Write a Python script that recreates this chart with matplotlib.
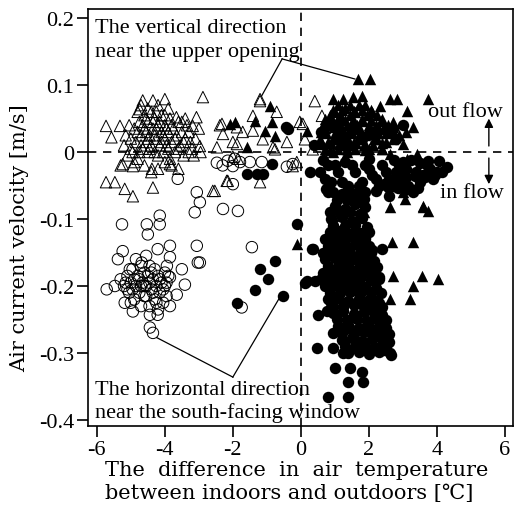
import matplotlib
matplotlib.use("Agg")
import matplotlib.pyplot as plt

plt.rcParams['font.family'] = ['Liberation Serif', 'Noto Sans CJK JP', 'DejaVu Sans']
plt.rcParams['axes.unicode_minus'] = False

# vertical direction, dT < 0 (open triangles)
ot_x = [-5.73, -5.32, -5.57, -4.65, -4.35, -4.0, -2.88, -1.2, -4.74, -3.66, -3.07, -2.38,
        -5.73, -5.47, -5.18, -4.94, -4.35, -2.59, -2.18, -1.2, -3.85, -4.38, -5.24, -4.94,
        -1.41, -2.0, -0.82, -0.41, -0.03, -0.12, -2.97, -3.18,
        -1.2, -1.41, -0.71, -2.32, -2.29, -1.88, -1.71, -1.12, -0.76, -2.47, -1.88,
        0.06, 0.12, -2.0, -1.85, -0.24, -2.15, -2.53, 0.41, 0.35, 0.62,
        -5.2, -5.1, -5.0, -4.95, -4.9, -4.85, -4.8, -4.75, -4.7, -4.65, -4.6, -4.6, -4.55, -4.5,
        -4.5, -4.45, -4.4, -4.4, -4.35, -4.3, -4.3, -4.25, -4.2, -4.2, -4.15, -4.1, -4.1, -4.05,
        -4.0, -4.0, -3.95, -3.9, -3.85, -3.85, -3.8, -3.75, -3.7, -3.65, -3.6, -3.55, -3.5, -3.45,
        -3.4, -3.35, -3.3, -3.25, -4.6, -4.4, -4.2, -4.0, -3.8, -3.6, -4.8, -4.5, -4.2, -3.9,
        -5.3, -5.05, -4.7, -3.4,
        -5.15, -5.0, -4.9, -4.8, -4.7, -4.65, -4.55, -4.5, -4.45, -4.35, -4.3, -4.25, -4.15, -4.1,
        -4.05, -3.95, -3.9, -3.8, -3.7, -3.6, -3.5, -3.45, -4.55, -4.25, -4.0, -4.75, -3.3, -3.2,
        -3.1, -3.0, -3.15, -2.95]
ot_y = [0.039, 0.039, 0.022, 0.077, 0.077, 0.079, 0.082, 0.079, 0.064, 0.052, 0.052, 0.040,
        -0.045, -0.045, -0.055, -0.066, -0.053, -0.058, -0.043, -0.045, -0.018, -0.025, -0.018, -0.021,
        0.032, 0.015, 0.007, 0.015, 0.045, -0.015, 0.009, 0.039,
        0.076, 0.054, 0.060, 0.042, 0.027, 0.037, 0.030, 0.019, 0.004, 0.007, 0.012,
        0.042, 0.019, -0.007, -0.010, -0.021, -0.043, -0.058, 0.076, 0.004, 0.054,
        0.010, -0.005, 0.020, 0.000, 0.035, 0.015, -0.010, 0.045, 0.025, 0.005, 0.055, 0.035, 0.015, 0.000,
        0.045, 0.025, 0.060, 0.010, 0.035, 0.000, 0.050, 0.020, 0.040, -0.005, 0.010, 0.030, 0.055, 0.000,
        0.020, 0.040, 0.010, 0.030, -0.010, 0.050, 0.015, 0.035, 0.000, 0.025, 0.045, 0.010, 0.030, -0.005,
        0.020, 0.040, 0.000, 0.015, -0.020, -0.030, -0.025, -0.015, -0.020, -0.025, 0.060, 0.065, 0.070, 0.065,
        -0.020, 0.040, 0.070, 0.050,
        0.025, 0.005, -0.015, 0.030, 0.010, 0.040, 0.030, 0.020, 0.005, 0.045, 0.025, 0.035, 0.045, 0.015,
        0.025, 0.035, 0.005, 0.040, 0.020, 0.005, 0.045, 0.015, 0.050, 0.060, 0.055, 0.000, 0.030, 0.005,
        0.020, 0.035, -0.005, 0.000]

# horizontal direction, dT < 0 (open circles)
oc_x = [-2.47, -2.15, -1.79, -1.5, -1.15, -2.0, -0.41, -0.24, -3.62, -2.0, -3.06, -2.97, -3.12,
        -2.29, -1.85, -4.15, -5.26, -4.53, -4.15, -4.5, -3.06, -5.24, -5.38, -4.21, -3.85, -3.85,
        -3.94, -3.03, -3.5, -5.03, -4.68, -5.71, -5.47, -3.41, -3.65, -3.85, -4.94, -5.18, -4.44,
        -4.21, -4.44, -4.35, -1.44, -1.74, -2.97,
        -5.3, -5.2, -5.1, -5.05, -5.0, -4.95, -4.9, -4.85, -4.8, -4.75, -4.7, -4.65, -4.6, -4.6,
        -4.55, -4.5, -4.45, -4.4, -4.35, -4.3, -4.3, -4.25, -4.2, -4.15, -4.1, -4.05, -4.0, -3.95,
        -3.9, -3.85, -4.45, -4.2, -4.7, -5.0, -4.85, -4.55,
        -5.15, -4.95, -4.75, -4.55, -4.45, -4.35, -4.15, -4.05, -3.95, -4.25, -4.6, -4.9, -4.7,
        -5.1, -4.0, -4.4, -1.95, -2.3]
oc_y = [-0.016, -0.013, -0.015, -0.015, -0.015, -0.021, -0.022, -0.018, -0.040, -0.048, -0.060, -0.075, -0.090,
        -0.085, -0.088, -0.095, -0.108, -0.108, -0.108, -0.123, -0.140, -0.148, -0.160, -0.145, -0.140, -0.157,
        -0.170, -0.165, -0.175, -0.175, -0.165, -0.205, -0.200, -0.198, -0.213, -0.187, -0.238, -0.225, -0.243,
        -0.243, -0.262, -0.270, -0.142, -0.232, -0.165,
        -0.190, -0.200, -0.185, -0.210, -0.195, -0.175, -0.220, -0.200, -0.185, -0.210, -0.170, -0.195, -0.180, -0.215,
        -0.200, -0.185, -0.170, -0.205, -0.190, -0.175, -0.220, -0.200, -0.185, -0.210, -0.195, -0.225, -0.200, -0.215,
        -0.185, -0.230, -0.230, -0.235, -0.230, -0.225, -0.160, -0.155,
        -0.195, -0.205, -0.190, -0.215, -0.195, -0.210, -0.190, -0.205, -0.195, -0.225, -0.200, -0.190, -0.200,
        -0.205, -0.180, -0.180, -0.010, -0.020]

# vertical direction, dT > 0 (filled triangles)
ft_x = [1.68, 2.03, 3.74, 0.94, 1.24, 1.53, 1.79, 2.62, 2.82, 2.32, 3.12, 3.29, 3.0, 2.62, 3.41, 3.12,
        2.62, 3.06, 3.59, 3.74, 0.94, 1.65, 2.68, 3.29, 2.71, 3.56, 4.03, 3.29, 2.62, 3.21, -0.12,
        1.24, 3.0, 2.62, 3.59, 2.62, 3.12, 1.29, 0.94,
        -2.09, -1.94, -0.91, -1.35, -0.85, -1.06, -0.76, -1.59, 0.18,
        0.6, 0.7, 0.8, 0.9, 1.0, 1.0, 1.1, 1.2, 1.25, 1.3, 1.4, 1.5, 1.55, 1.6, 1.7,
        1.8, 1.85, 1.9, 2.0, 2.1, 2.15, 2.3, 2.4, 2.5, 2.6, 2.7, 2.9, 3.1, 1.35, 0.95,
        0.7, 1.1, 1.6, 2.0, 2.4, 0.55, 0.95, 1.4, 1.75, 2.25, 2.7, 0.65, 1.15, 1.35, 1.65,
        2.2, 2.55, 0.85, 1.15, 1.45, 1.95, 2.25, 1.1, 1.45, 1.7, 1.9, 1.05, 1.85,
        0.62, 0.88, 1.12, 1.38, 1.62, 1.88, 2.12, 2.38, 0.75, 1.0, 1.25, 1.5, 1.75, 2.0, 2.28, 2.5,
        0.8, 1.05, 1.3, 1.55, 1.8, 2.05, 2.35, 0.95, 1.2, 1.55, 1.8, 2.05,
        0.72, 0.98, 1.22, 1.48, 1.72, 1.98, 2.22, 2.45, 0.85, 1.35, 1.9, 2.4]
ft_y = [0.109, 0.109, 0.079, 0.079, 0.079, 0.082, 0.084, 0.079, 0.079, 0.069, 0.061, 0.037, 0.012, -0.003, -0.003, -0.010,
        -0.082, -0.070, -0.082, -0.088, -0.100, -0.135, -0.135, -0.135, -0.185, -0.185, -0.190, -0.200, -0.220, -0.220, -0.138,
        -0.060, -0.060, -0.051, -0.081, -0.040, -0.055, -0.063, -0.096,
        0.042, 0.045, 0.069, 0.046, 0.045, 0.031, 0.024, 0.007, 0.031,
        0.030, 0.050, 0.015, 0.040, 0.060, 0.020, 0.035, 0.050, 0.010, 0.065, 0.030, 0.045, 0.015, 0.060, 0.035,
        0.050, 0.010, 0.025, 0.040, 0.060, 0.020, 0.035, 0.050, 0.015, 0.030, 0.045, 0.025, 0.030, 0.000, 0.000,
        0.005, 0.005, 0.005, 0.005, 0.005, 0.020, 0.020, 0.020, 0.020, 0.020, 0.020, 0.040, 0.040, 0.040, 0.040,
        0.040, 0.040, 0.055, 0.055, 0.055, 0.055, 0.055, 0.070, 0.070, 0.070, 0.070, -0.085, -0.090,
        0.012, 0.013, 0.012, 0.011, 0.013, 0.012, 0.011, 0.013, 0.028, 0.029, 0.027, 0.028, 0.029, 0.027, 0.028, 0.029,
        0.047, 0.046, 0.048, 0.047, 0.046, 0.048, 0.047, 0.062, 0.063, 0.061, 0.062, 0.063,
        0.036, 0.037, 0.035, 0.036, 0.037, 0.035, 0.036, 0.037, 0.003, 0.004, 0.003, 0.004]

# horizontal direction, dT > 0 (filled circles)
fc_x = [-0.12, -0.76, -1.2, -0.97, -1.35, -0.53, -1.88, 0.12, 0.32, -0.85, -1.59, -1.29, -1.12, 0.26,
        -0.45, -0.38,
        0.35, 0.18, 0.41, 0.5, 0.76, 0.47, 1.0, 1.44, 1.79, 1.82, 1.38, 1.38, 0.79, 2.38, 0.94, 0.94,
        1.24, 2.62, 2.41,
        1.0, 1.3, 1.6, 1.9, 0.9, 1.2, 1.5, 1.8, 0.85, 1.15, 1.45, 1.75, 2.0,
        0.8, 1.1, 1.4, 1.7, 2.0, 0.7, 1.0, 1.3, 1.6, 1.9, 2.15, 0.65, 0.95, 1.25, 1.55, 1.85, 2.15,
        0.7, 1.0, 1.3, 1.6, 1.9, 2.2, 0.8, 1.1, 1.4, 1.7, 2.0, 2.25, 0.95, 1.25, 1.55, 1.85, 2.15, 2.4,
        1.1, 1.4, 1.7, 2.0, 2.3, 2.5, 1.2, 1.5, 1.8, 2.1, 2.4, 2.6, 1.4, 1.7, 2.0, 2.3, 2.65,
        0.85, 1.15, 1.45, 1.75, 0.95, 1.3, 1.6, 1.95, 0.7, 1.0, 1.3, 1.6, 1.9,
        0.65, 0.85, 1.15, 1.45, 1.75, 2.05, 0.8, 1.1, 1.4, 1.7, 2.0, 2.25,
        0.6, 0.85, 1.15, 1.45, 1.75, 2.05, 2.3, 0.85, 1.15, 1.45, 1.75, 2.05, 2.35,
        0.95, 1.25, 1.55, 1.85, 2.1, 2.4, 1.05, 1.35, 1.65, 1.95, 2.25, 2.5,
        1.2, 1.55, 1.85, 2.15, 2.45, 2.6, 1.3, 1.6, 1.9, 2.2, 2.5,
        0.55, 0.8, 0.9, 1.1, 1.3, 1.4, 1.6, 1.8, 1.9, 2.1, 2.3, 2.5, 2.7, 2.9, 3.0, 3.2, 3.4, 3.6,
        3.8, 4.0, 4.3, 3.3, 2.6,
        0.7, 1.0, 1.2, 1.5, 1.7, 2.0, 2.2, 2.4, 2.6, 2.8, 3.1, 3.5, 3.7, 3.9, 4.15, 1.2, 1.6, 0.8,
        0.6, 0.9, 1.2, 1.5, 1.8, 2.1, 2.7, 3.0, 2.8, 0.4,
        0.95, 1.2, 1.45, 1.7, 1.9, 1.05, 1.35, 1.6, 1.85, 2.75, 3.0, 3.25, 3.5, 3.75, 4.05,
        2.85, 3.1, 3.35, 3.65, 3.95, 2.55, 2.85, 3.15, 3.45, 0.65, 0.75, 2.2, 2.45, 2.0,
        1.05, 1.35, 1.65, 1.9, 0.8, 1.1, 1.45, 1.8, 2.1, 0.75, 1.05, 1.4, 1.75, 2.05, 2.3,
        0.9, 1.3, 1.65, 2.0, 2.3, 1.1, 1.5, 1.85, 2.2, 2.5, 1.35, 1.75, 2.1, 2.45]
fc_y = [-0.108, -0.163, -0.175, -0.190, -0.206, -0.215, -0.225, -0.195, -0.145, -0.018, -0.033, -0.033, -0.033, -0.030,
        0.037, 0.034,
        -0.145, -0.193, -0.193, -0.243, -0.238, -0.292, -0.322, -0.322, -0.328, -0.344, -0.344, -0.365, -0.365, -0.145, -0.270, -0.292,
        -0.300, -0.300, -0.285,
        -0.080, -0.085, -0.078, -0.082, -0.100, -0.097, -0.103, -0.099, -0.120, -0.118, -0.123, -0.121, -0.119,
        -0.140, -0.138, -0.142, -0.139, -0.141, -0.160, -0.158, -0.162, -0.159, -0.161, -0.163, -0.180, -0.178, -0.182, -0.179, -0.181, -0.183,
        -0.200, -0.198, -0.202, -0.199, -0.201, -0.203, -0.220, -0.218, -0.222, -0.219, -0.221, -0.223, -0.240, -0.238, -0.242, -0.239, -0.241, -0.243,
        -0.260, -0.258, -0.262, -0.259, -0.261, -0.263, -0.280, -0.278, -0.282, -0.279, -0.281, -0.283, -0.300, -0.298, -0.302, -0.299, -0.303,
        -0.090, -0.091, -0.089, -0.092, -0.110, -0.111, -0.109, -0.112, -0.130, -0.131, -0.129, -0.132, -0.130,
        -0.150, -0.151, -0.149, -0.152, -0.150, -0.151, -0.170, -0.171, -0.169, -0.172, -0.170, -0.171,
        -0.190, -0.191, -0.189, -0.192, -0.190, -0.191, -0.189, -0.210, -0.211, -0.209, -0.212, -0.210, -0.211,
        -0.230, -0.231, -0.229, -0.232, -0.230, -0.231, -0.250, -0.251, -0.249, -0.252, -0.250, -0.251,
        -0.270, -0.271, -0.269, -0.272, -0.270, -0.271, -0.290, -0.291, -0.289, -0.292, -0.290,
        -0.030, -0.020, -0.045, -0.030, -0.015, -0.050, -0.030, -0.045, -0.020, -0.035, -0.050, -0.030, -0.045, -0.020, -0.040, -0.055, -0.030, -0.035,
        -0.025, -0.030, -0.022, -0.060, -0.065,
        -0.040, -0.020, -0.045, -0.020, -0.050, -0.025, -0.040, -0.020, -0.040, -0.030, -0.025, -0.045, -0.020, -0.040, -0.030, -0.065, -0.070, -0.060,
        0.030, 0.040, 0.020, 0.035, 0.020, 0.030, 0.035, 0.040, 0.020, 0.010,
        -0.060, -0.062, -0.059, -0.061, -0.060, -0.072, -0.071, -0.073, -0.070, -0.012, -0.015, -0.012, -0.016, -0.013, -0.014,
        -0.035, -0.038, -0.036, -0.037, -0.035, -0.052, -0.054, -0.051, -0.053, -0.012, -0.055, -0.058, -0.048, -0.010,
        -0.125, -0.126, -0.124, -0.127, -0.145, -0.146, -0.144, -0.147, -0.146, -0.185, -0.186, -0.184, -0.187, -0.185, -0.186,
        -0.225, -0.226, -0.224, -0.227, -0.226, -0.265, -0.266, -0.264, -0.267, -0.266, -0.295, -0.296, -0.294, -0.296]

x_ticks = [-6, -4, -2, 0, 2, 4, 6]
y_ticks = [0.2, 0.1, 0, -0.1, -0.2, -0.3, -0.4]
y_ticklabels = ['0.2', '0.1', '0', '-0.1', '-0.2', '-0.3', '-0.4']

fig = plt.figure(figsize=(5.16, 5.06), dpi=100)
ax = fig.add_axes([88 / 516, 1 - 427 / 506, 425 / 516, 417 / 506])

ms = 68
ax.scatter(ot_x, ot_y, s=ms, marker='^', facecolors='none', edgecolors='black', linewidths=0.7, zorder=3)
ax.scatter(oc_x, oc_y, s=ms, marker='o', facecolors='none', edgecolors='black', linewidths=0.7, zorder=3)
ax.scatter(ft_x, ft_y, s=ms, marker='^', color='black', linewidths=0, zorder=4)
ax.scatter(fc_x, fc_y, s=ms, marker='o', color='black', linewidths=0, zorder=4)

ax.axhline(0, color='black', lw=1.2, ls=(0, (5, 4)), zorder=2)
ax.axvline(0, color='black', lw=1.2, ls=(0, (5, 4)), zorder=2)

ax.set_xlim(-6.26, 6.24)
ax.set_ylim(-0.409, 0.2135)
ax.set_xticks(x_ticks)
ax.set_xticklabels([str(t) for t in x_ticks])
ax.set_yticks(y_ticks)
ax.set_yticklabels(y_ticklabels)
ax.tick_params(direction='out', length=8, width=1.2, labelsize=16, pad=2)
for sp in ax.spines.values():
    sp.set_linewidth(1.2)

# annotations
tsize = 16
ax.text(-6.06, 0.179, "The vertical direction", fontsize=tsize, va='baseline', ha='left', zorder=6)
ax.text(-6.06, 0.1435, "near the upper opening", fontsize=tsize, va='baseline', ha='left', zorder=6)
ax.plot([-0.55, -1.15], [0.139, 0.084], color='black', lw=0.9, zorder=5)
ax.plot([-0.55, 1.59], [0.139, 0.109], color='black', lw=0.9, zorder=5)

ax.text(-6.06, -0.3617, "The horizontal direction", fontsize=tsize, va='baseline', ha='left', zorder=6)
ax.text(-6.06, -0.396, "near the south-facing window", fontsize=tsize, va='baseline', ha='left', zorder=6)
ax.plot([-2.0, -4.24], [-0.336, -0.277], color='black', lw=0.9, zorder=5)
ax.plot([-2.0, -0.62], [-0.336, -0.217], color='black', lw=0.9, zorder=5)

ax.text(3.74, 0.0543, "out flow", fontsize=tsize, va='baseline', ha='left', zorder=6)
ax.text(4.09, -0.0673, "in flow", fontsize=tsize, va='baseline', ha='left', zorder=6)
ax.annotate("", xy=(5.53, 0.05), xytext=(5.53, 0.009),
            arrowprops=dict(arrowstyle='-|>', color='black', lw=1.0, mutation_scale=13,
                            shrinkA=0, shrinkB=0))
ax.annotate("", xy=(5.53, -0.048), xytext=(5.53, -0.009),
            arrowprops=dict(arrowstyle='-|>', color='black', lw=1.0, mutation_scale=13,
                            shrinkA=0, shrinkB=0))

lab_font = ['DejaVu Serif', 'Noto Sans CJK JP', 'DejaVu Sans']
fig.text(105 / 516, 1 - 476 / 506, "The  difference  in  air  temperature", fontsize=15,
         family=lab_font, ha='left', va='baseline')
fig.text(105 / 516, 1 - 499 / 506, "between indoors and outdoors [℃]", fontsize=15,
         family=lab_font, ha='left', va='baseline')
fig.text(20 / 516, 1 - 238 / 506, "Air current velocity [m/s]", fontsize=15,
         family=lab_font, rotation=90, ha='center', va='center')

fig.savefig('out.png', dpi=100)
